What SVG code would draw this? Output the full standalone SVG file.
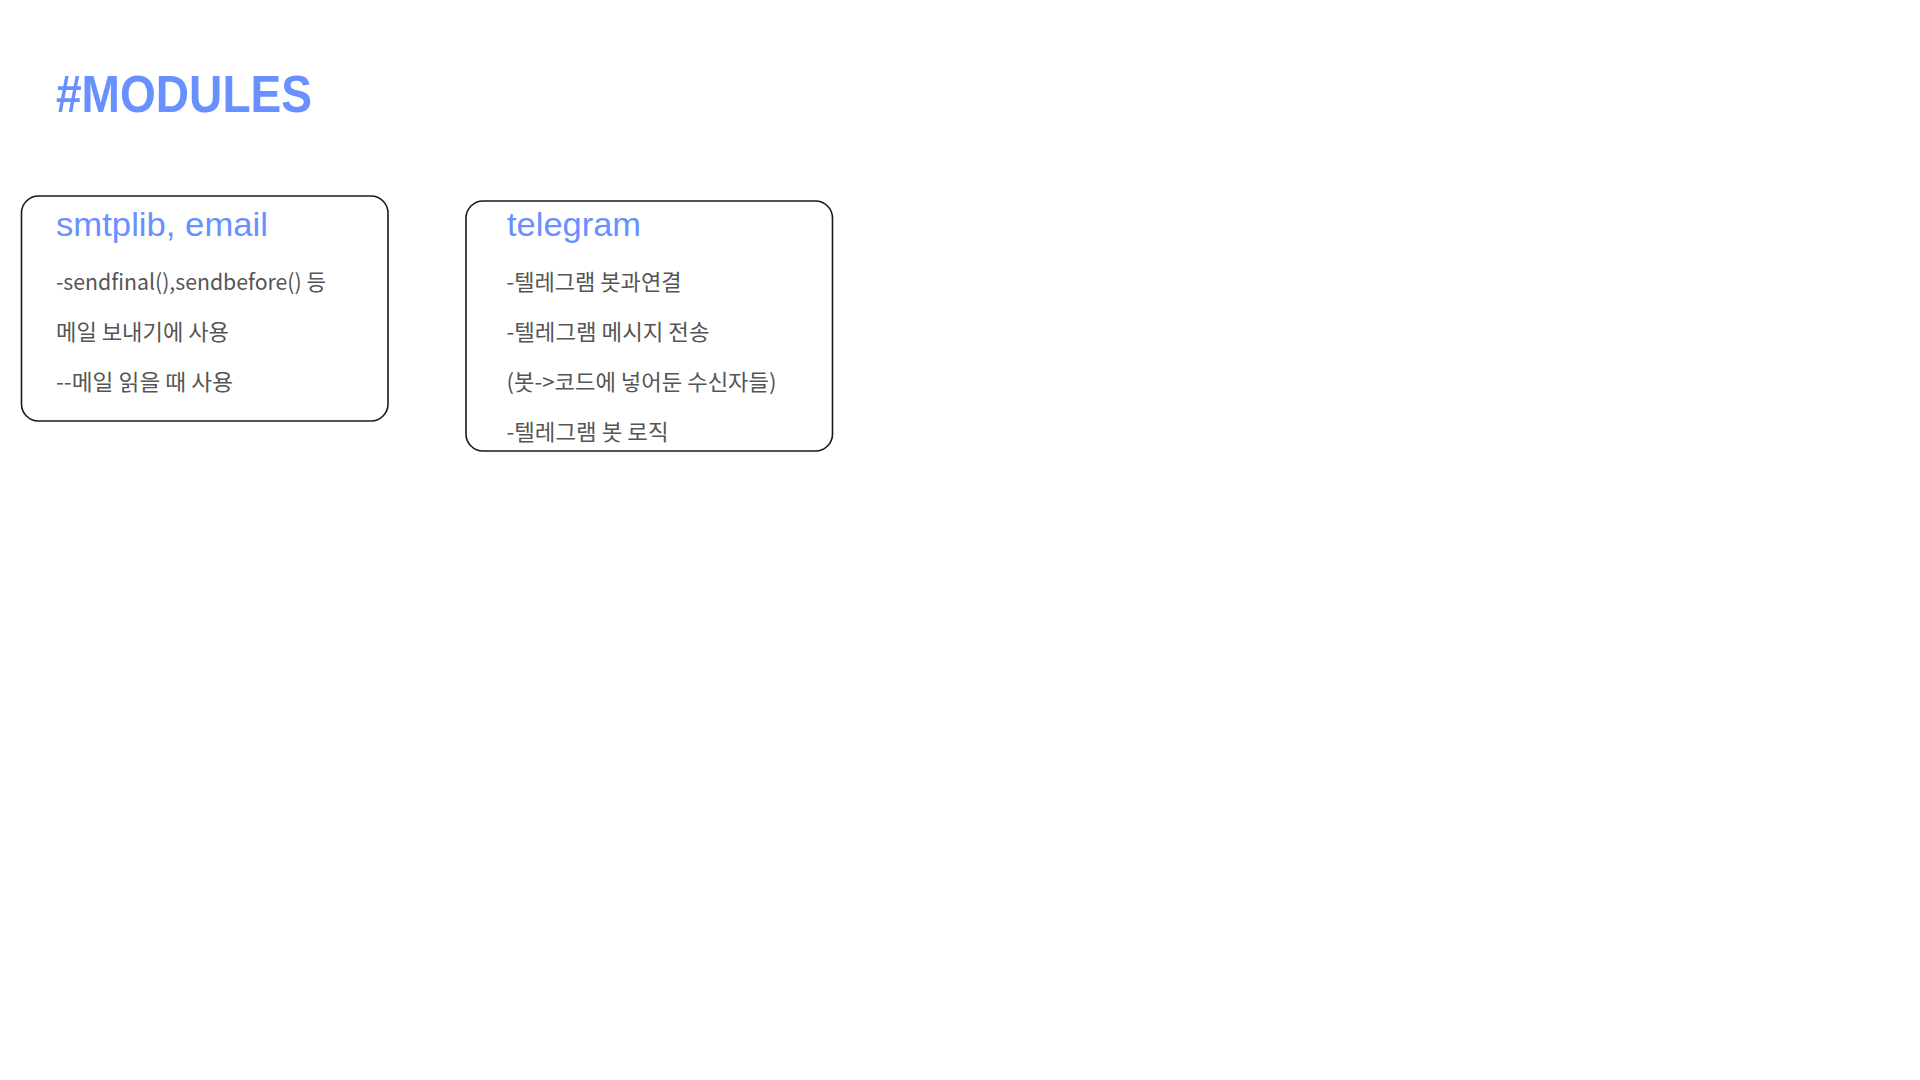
<svg xmlns="http://www.w3.org/2000/svg" width="1920" height="1080" viewBox="0 0 1920 1080">
  <style>
    .page { fill: #ffffff; }
    .title { font-family: "Liberation Sans", "Noto Sans CJK KR", sans-serif; font-weight: bold; font-size: 51px; fill: #6891FF; }
    .box { fill: #ffffff; stroke: #1a1a1a; stroke-width: 1.6; }
    .head { font-family: "Liberation Sans", "Noto Sans CJK KR", sans-serif; font-size: 34px; fill: #6891FF; }
    .body { font-family: "Noto Sans CJK KR", "Liberation Sans", sans-serif; font-size: 22px; fill: #555555; }
  </style>
  <rect class="page" x="0" y="0" width="1920" height="1080"/>
  <text id="page-title" class="title" x="56" y="112" textLength="256" lengthAdjust="spacingAndGlyphs">#MODULES</text>

  <g id="node-smtplib">
    <rect class="box" x="21.5" y="196" width="366.5" height="225" rx="17" ry="17"/>
    <text class="head" x="56" y="236" textLength="212" lengthAdjust="spacingAndGlyphs">smtplib, email</text>
    <text class="body" x="56" y="290" textLength="270" lengthAdjust="spacingAndGlyphs">-sendfinal(),sendbefore() 등</text>
    <text class="body" x="56" y="340" textLength="173" lengthAdjust="spacingAndGlyphs">메일 보내기에 사용</text>
    <text class="body" x="56" y="390" textLength="177" lengthAdjust="spacingAndGlyphs">--메일 읽을 때 사용</text>
  </g>

  <g id="node-telegram">
    <rect class="box" x="466" y="201" width="366.5" height="250" rx="17" ry="17"/>
    <text class="head" x="507" y="236" textLength="134" lengthAdjust="spacingAndGlyphs">telegram</text>
    <text class="body" x="506.5" y="290" textLength="175" lengthAdjust="spacingAndGlyphs">-텔레그램 봇과연결</text>
    <text class="body" x="506.5" y="340" textLength="203" lengthAdjust="spacingAndGlyphs">-텔레그램 메시지 전송</text>
    <text class="body" x="506.5" y="390" textLength="270" lengthAdjust="spacingAndGlyphs">(봇-&gt;코드에 넣어둔 수신자들)</text>
    <text class="body" x="506.5" y="440" textLength="162" lengthAdjust="spacingAndGlyphs">-텔레그램 봇 로직</text>
  </g>

  <g id="connectors"></g>
</svg>
